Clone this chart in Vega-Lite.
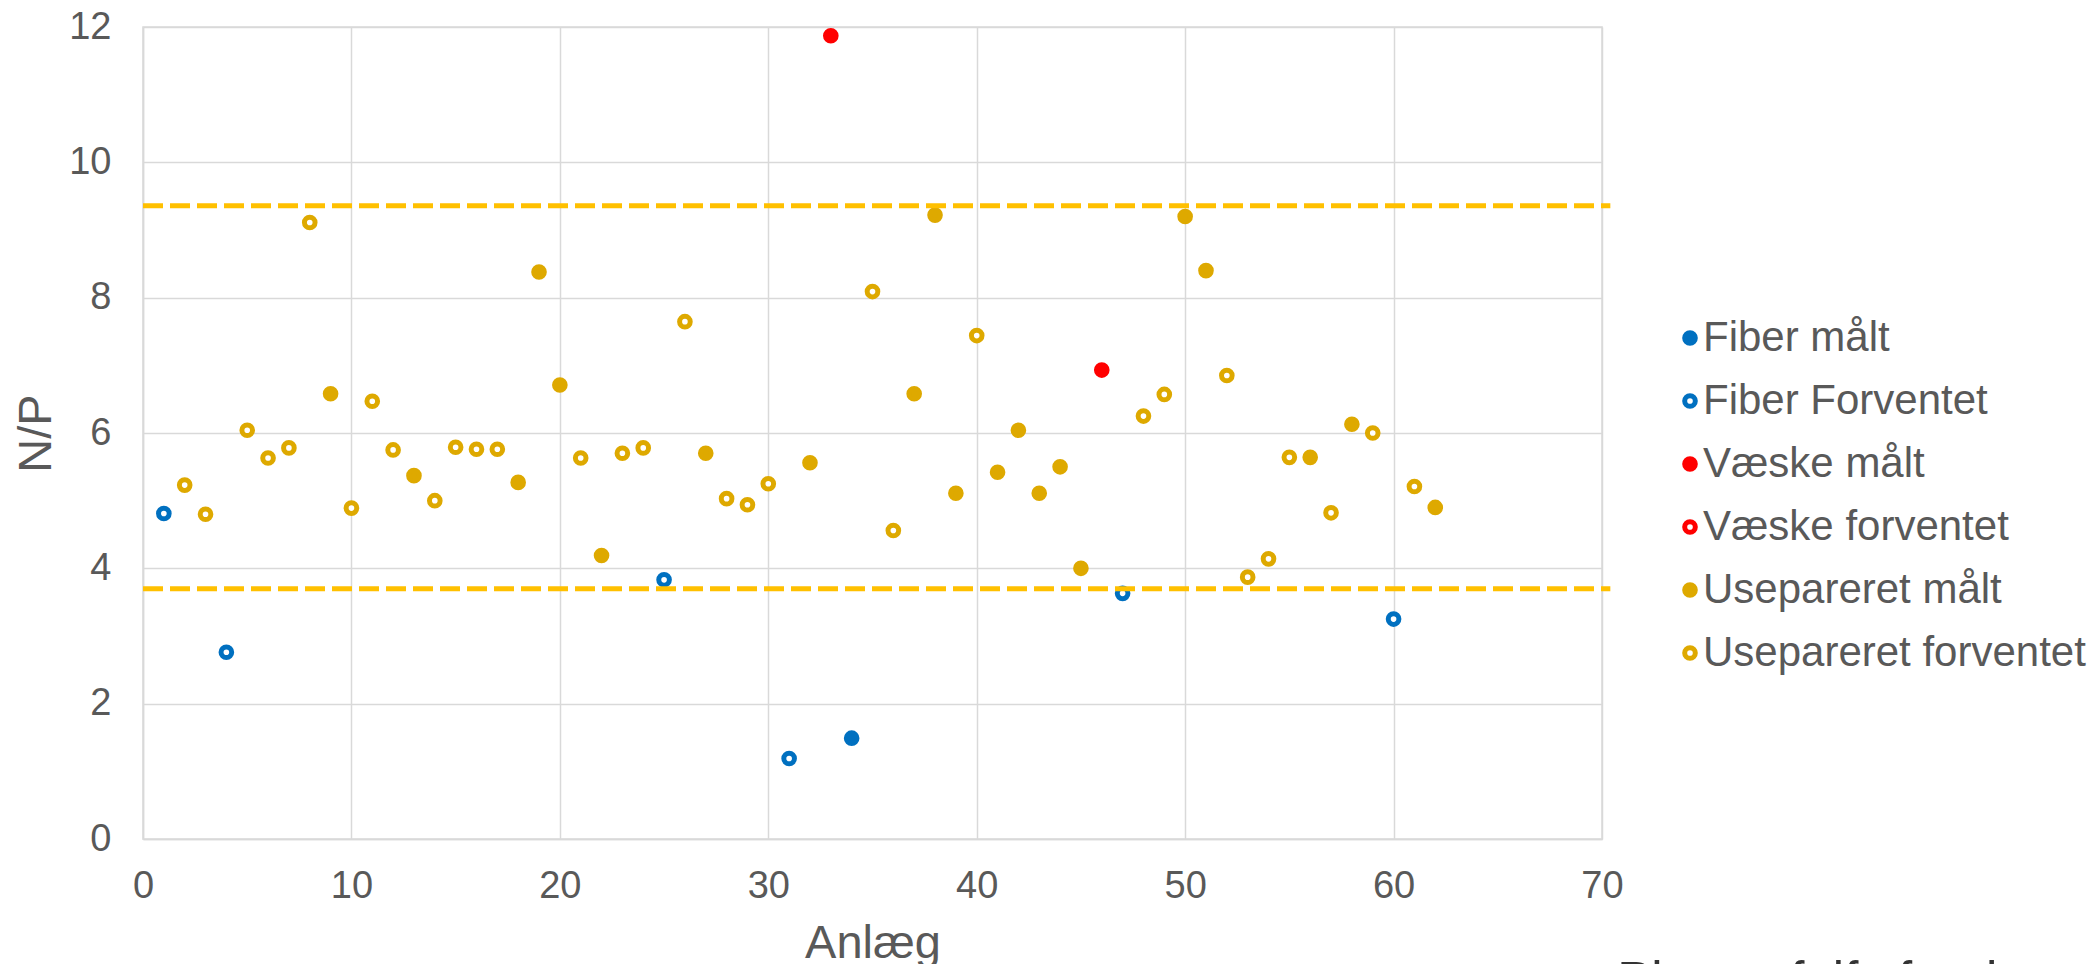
{
  "$schema": "https://vega.github.io/schema/vega-lite/v6.json",
  "autosize": {"type": "none"},
  "width": 1459,
  "height": 812,
  "padding": {"left": 143, "top": 27, "right": 496, "bottom": 125},
  "background": "white",
  "title": {"text": "Planteafgiftsfonden", "orient": "bottom", "anchor": "end", "frame": "group", "dx": 452, "offset": -8, "fontSize": 51, "font": "Liberation Sans", "fontWeight": "normal", "color": "#333333", "baseline": "top"},
  "config": {
    "font": "Liberation Sans",
    "view": {"stroke": "#D9D9D9", "strokeWidth": 1.5},
    "axis": {
      "labelFont": "Liberation Sans",
      "labelColor": "#595959",
      "labelFontSize": 38,
      "titleFont": "Liberation Sans",
      "titleFontSize": 47,
      "titleFontWeight": "normal",
      "titleColor": "#595959",
      "gridColor": "#D9D9D9",
      "gridWidth": 1.5,
      "domainColor": "#D9D9D9",
      "domainWidth": 1.5,
      "ticks": false,
      "labelFlush": false,
      "format": "d"
    },
    "legend": {
      "labelFont": "Liberation Sans",
      "labelFontSize": 42,
      "labelColor": "#595959",
      "labelLimit": 0,
      "symbolStrokeWidth": 5,
      "symbolSize": 113,
      "rowPadding": 21,
      "labelOffset": -8
    }
  },
  "data": {"values": [
    {"x": 1, "y": 4.81, "serie": "Fiber Forventet"},
    {"x": 2, "y": 5.23, "serie": "Usepareret forventet"},
    {"x": 3, "y": 4.80, "serie": "Usepareret forventet"},
    {"x": 4, "y": 2.76, "serie": "Fiber Forventet"},
    {"x": 5, "y": 6.04, "serie": "Usepareret forventet"},
    {"x": 6, "y": 5.63, "serie": "Usepareret forventet"},
    {"x": 7, "y": 5.78, "serie": "Usepareret forventet"},
    {"x": 8, "y": 9.11, "serie": "Usepareret forventet"},
    {"x": 9, "y": 6.58, "serie": "Usepareret målt"},
    {"x": 10, "y": 4.89, "serie": "Usepareret forventet"},
    {"x": 11, "y": 6.47, "serie": "Usepareret forventet"},
    {"x": 12, "y": 5.75, "serie": "Usepareret forventet"},
    {"x": 13, "y": 5.37, "serie": "Usepareret målt"},
    {"x": 14, "y": 5.00, "serie": "Usepareret forventet"},
    {"x": 15, "y": 5.79, "serie": "Usepareret forventet"},
    {"x": 16, "y": 5.76, "serie": "Usepareret forventet"},
    {"x": 17, "y": 5.76, "serie": "Usepareret forventet"},
    {"x": 18, "y": 5.27, "serie": "Usepareret målt"},
    {"x": 19, "y": 8.38, "serie": "Usepareret målt"},
    {"x": 20, "y": 6.71, "serie": "Usepareret målt"},
    {"x": 21, "y": 5.63, "serie": "Usepareret forventet"},
    {"x": 22, "y": 4.19, "serie": "Usepareret målt"},
    {"x": 23, "y": 5.70, "serie": "Usepareret forventet"},
    {"x": 24, "y": 5.78, "serie": "Usepareret forventet"},
    {"x": 25, "y": 3.83, "serie": "Fiber Forventet"},
    {"x": 26, "y": 7.645, "serie": "Usepareret forventet"},
    {"x": 27, "y": 5.70, "serie": "Usepareret målt"},
    {"x": 28, "y": 5.03, "serie": "Usepareret forventet"},
    {"x": 29, "y": 4.94, "serie": "Usepareret forventet"},
    {"x": 30, "y": 5.25, "serie": "Usepareret forventet"},
    {"x": 31, "y": 1.19, "serie": "Fiber Forventet"},
    {"x": 32, "y": 5.56, "serie": "Usepareret målt"},
    {"x": 33, "y": 11.87, "serie": "Væske målt"},
    {"x": 34, "y": 1.49, "serie": "Fiber målt"},
    {"x": 35, "y": 8.09, "serie": "Usepareret forventet"},
    {"x": 36, "y": 4.56, "serie": "Usepareret forventet"},
    {"x": 37, "y": 6.58, "serie": "Usepareret målt"},
    {"x": 38, "y": 9.22, "serie": "Usepareret målt"},
    {"x": 39, "y": 5.11, "serie": "Usepareret målt"},
    {"x": 40, "y": 7.44, "serie": "Usepareret forventet"},
    {"x": 41, "y": 5.42, "serie": "Usepareret målt"},
    {"x": 42, "y": 6.04, "serie": "Usepareret målt"},
    {"x": 43, "y": 5.11, "serie": "Usepareret målt"},
    {"x": 44, "y": 5.50, "serie": "Usepareret målt"},
    {"x": 45, "y": 4.00, "serie": "Usepareret målt"},
    {"x": 46, "y": 6.93, "serie": "Væske målt"},
    {"x": 47, "y": 3.63, "serie": "Fiber Forventet"},
    {"x": 48, "y": 6.25, "serie": "Usepareret forventet"},
    {"x": 49, "y": 6.57, "serie": "Usepareret forventet"},
    {"x": 50, "y": 9.20, "serie": "Usepareret målt"},
    {"x": 51, "y": 8.40, "serie": "Usepareret målt"},
    {"x": 52, "y": 6.85, "serie": "Usepareret forventet"},
    {"x": 53, "y": 3.87, "serie": "Usepareret forventet"},
    {"x": 54, "y": 4.14, "serie": "Usepareret forventet"},
    {"x": 55, "y": 5.64, "serie": "Usepareret forventet"},
    {"x": 56, "y": 5.64, "serie": "Usepareret målt"},
    {"x": 57, "y": 4.82, "serie": "Usepareret forventet"},
    {"x": 58, "y": 6.13, "serie": "Usepareret målt"},
    {"x": 59, "y": 6.00, "serie": "Usepareret forventet"},
    {"x": 60, "y": 3.25, "serie": "Fiber Forventet"},
    {"x": 61, "y": 5.21, "serie": "Usepareret forventet"},
    {"x": 62, "y": 4.90, "serie": "Usepareret målt"}
  ]},
  "layer": [
    {
      "mark": {"type": "point", "shape": "circle", "size": 113, "strokeWidth": 5, "opacity": 1, "filled": false},
      "encoding": {
        "x": {"field": "x", "type": "quantitative", "scale": {"domain": [0, 70], "nice": false, "zero": false},
          "axis": {"values": [0, 10, 20, 30, 40, 50, 60, 70], "title": "Anlæg", "labelPadding": 28, "titlePadding": 15, "grid": true}},
        "y": {"field": "y", "type": "quantitative", "scale": {"domain": [0, 12], "nice": false},
          "axis": {"values": [0, 2, 4, 6, 8, 10, 12], "title": "N/P", "labelPadding": 32, "titlePadding": 8, "grid": true}},
        "stroke": {"field": "serie", "type": "nominal",
          "scale": {"domain": ["Fiber målt", "Fiber Forventet", "Væske målt", "Væske forventet", "Usepareret målt", "Usepareret forventet"],
                    "range": ["#0070C0", "#0070C0", "#FF0000", "#FF0000", "#DEA900", "#DEA900"]},
          "legend": {"title": null, "orient": "none", "legendX": 1526, "legendY": 290}},
        "fill": {"field": "serie", "type": "nominal",
          "scale": {"domain": ["Fiber målt", "Fiber Forventet", "Væske målt", "Væske forventet", "Usepareret målt", "Usepareret forventet"],
                    "range": ["#0070C0", "#FFFFFF", "#FF0000", "#FFFFFF", "#DEA900", "#FFFFFF"]},
          "legend": {"title": null, "orient": "none", "legendX": 1526, "legendY": 290}}
      }
    },
    {
      "data": {"values": [{"lim": 9.36, "x1": 0, "x2": 70.4}, {"lim": 3.70, "x1": 0, "x2": 70.4}]},
      "mark": {"type": "rule", "color": "#FFC000", "strokeWidth": 5, "strokeDash": [20, 7]},
      "encoding": {
        "y": {"field": "lim", "type": "quantitative"},
        "x": {"field": "x1", "type": "quantitative"},
        "x2": {"field": "x2"}
      }
    }
  ]
}
